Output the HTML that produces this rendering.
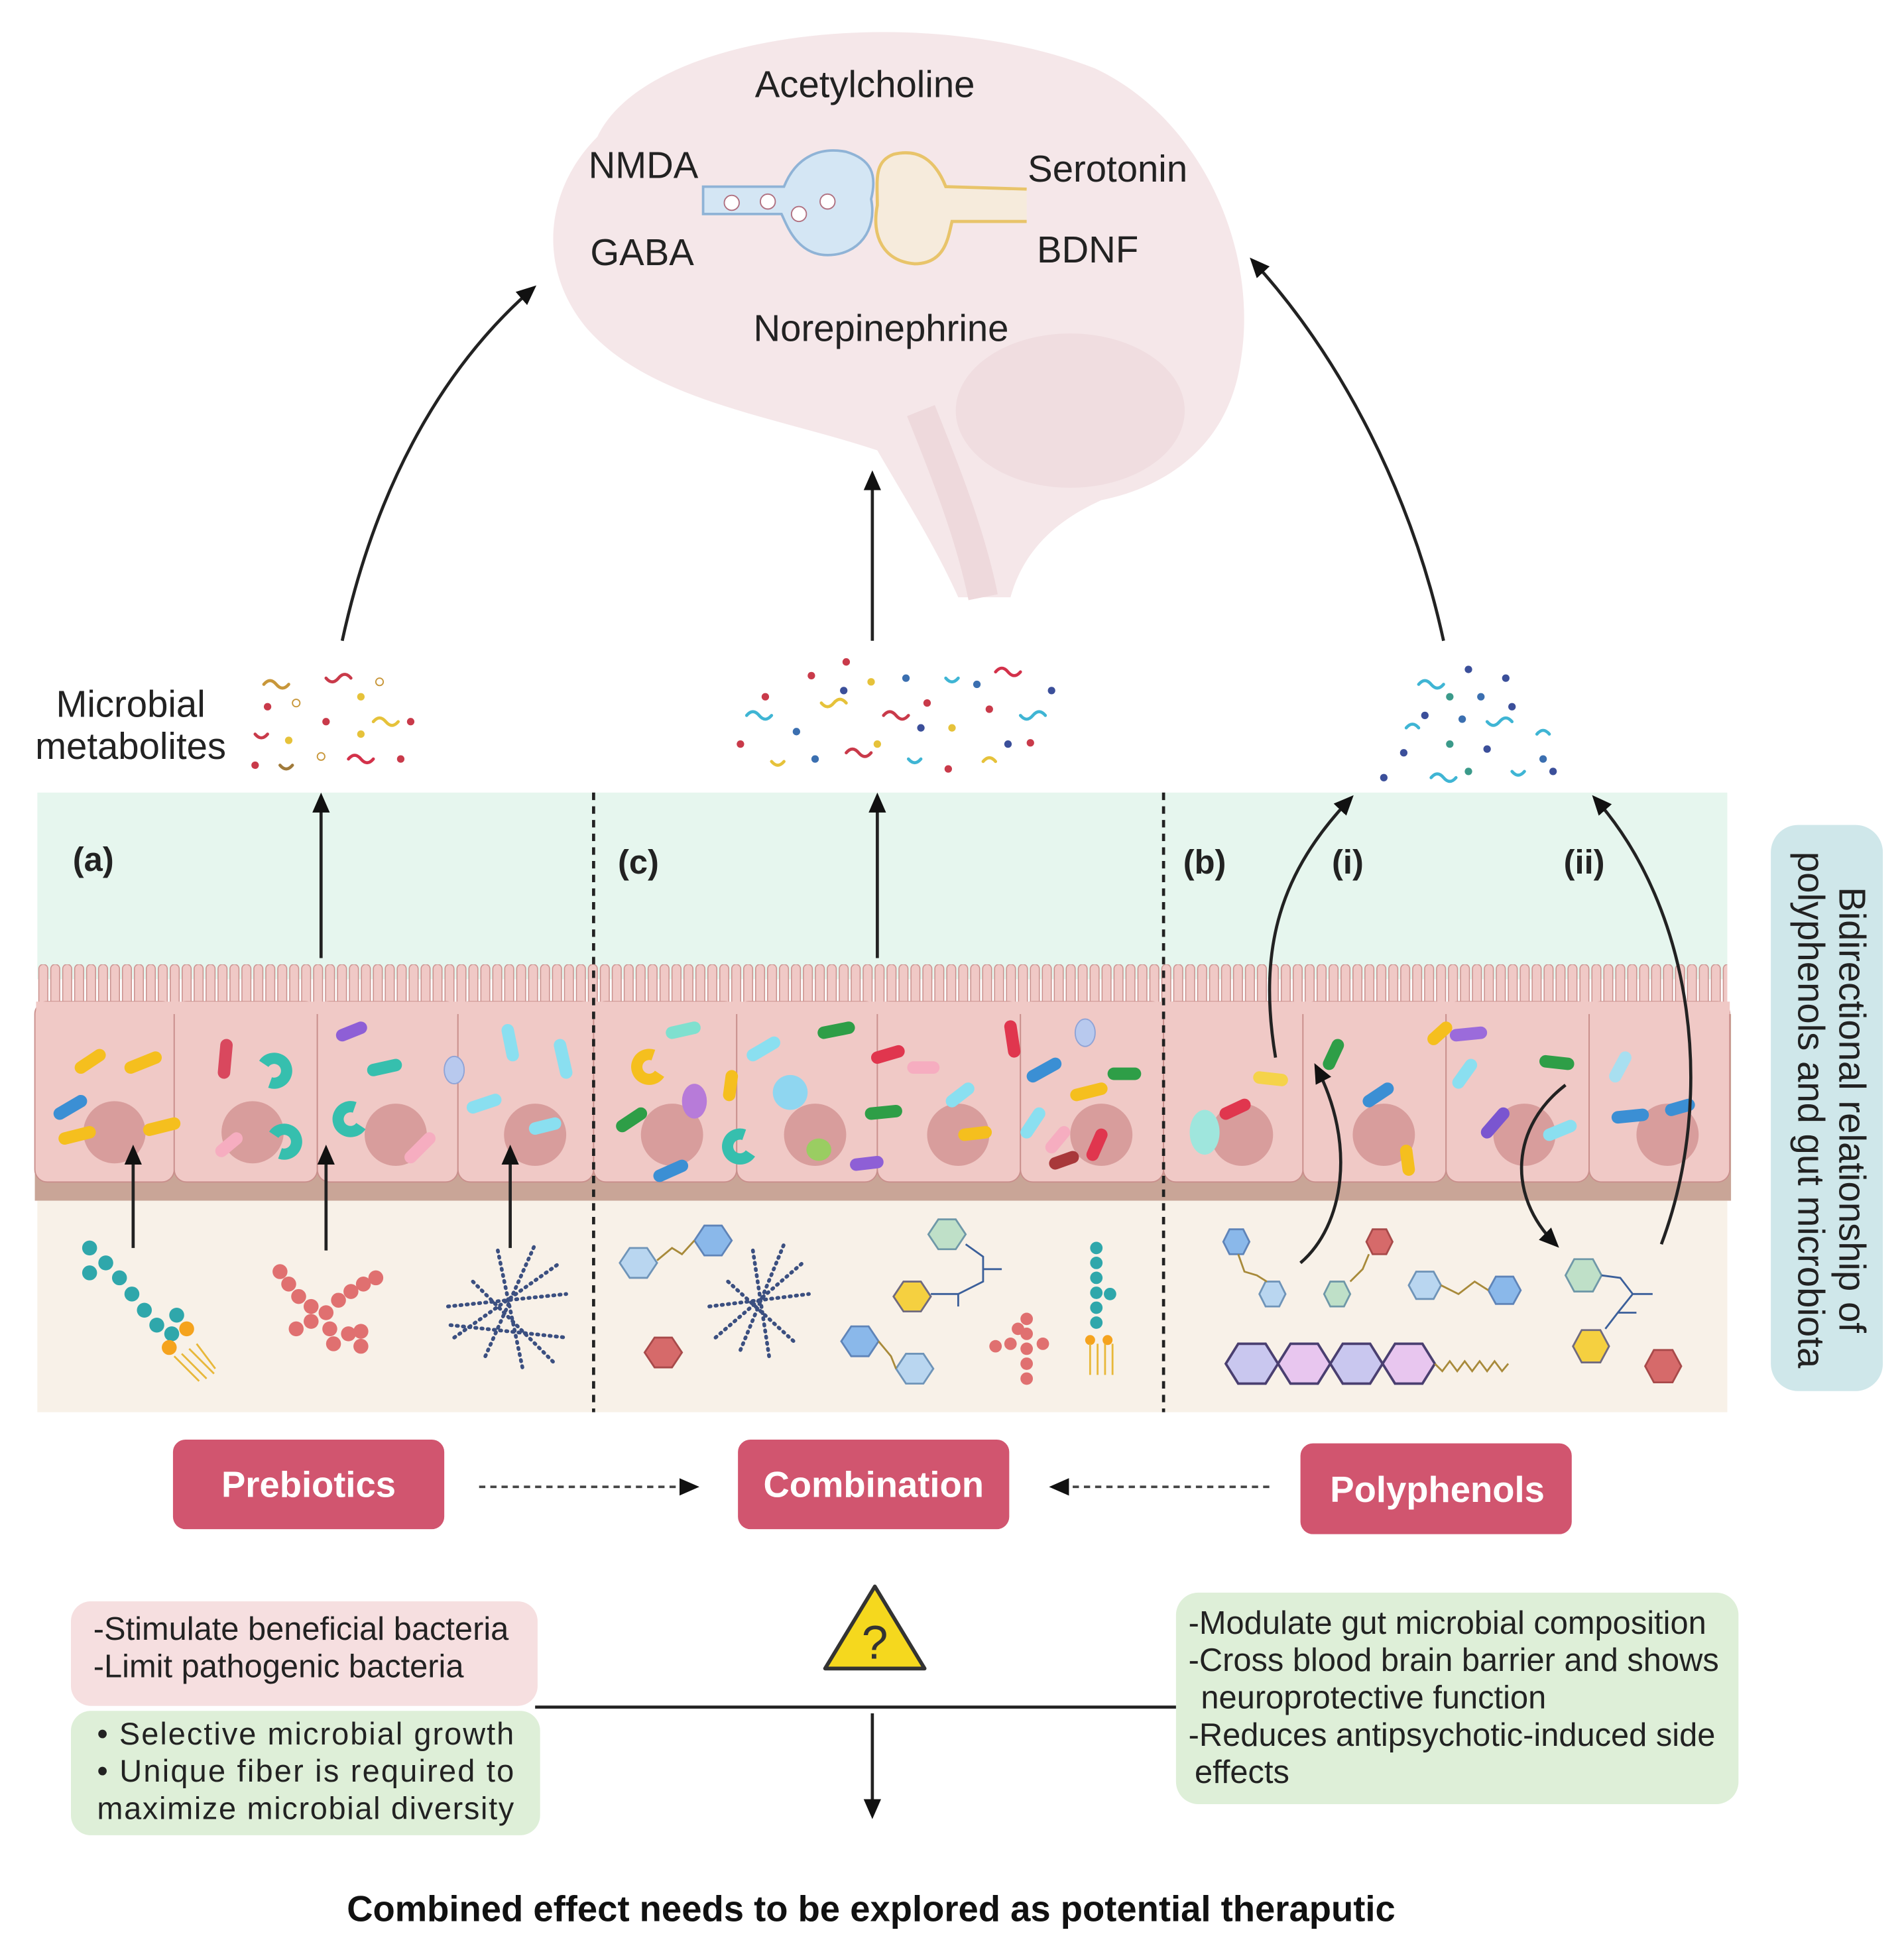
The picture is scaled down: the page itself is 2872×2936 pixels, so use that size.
<!DOCTYPE html>
<html><head><meta charset="utf-8">
<style>
html,body{margin:0;padding:0;background:#fff;}
svg{display:block;}
text{font-family:"Liberation Sans",Arial,sans-serif;}
</style></head>
<body>
<svg width="2872" height="2936" viewBox="0 0 1530 1564" preserveAspectRatio="none" xmlns="http://www.w3.org/2000/svg">
<defs>
<marker id="ahb" markerWidth="16" markerHeight="16" refX="12" refY="8" orient="auto" markerUnits="userSpaceOnUse" viewBox="0 0 16 16">
<path d="M0,1 L16,8 L0,15 Z" fill="#111"/></marker>
<pattern id="villi" x="30" y="775" width="9.6" height="60" patternUnits="userSpaceOnUse">
<rect x="1.2" y="0" width="7.2" height="50" rx="3.6" fill="#f0c9c6" stroke="#c98f8c" stroke-width="0.8"/>
</pattern>
</defs>

<!-- Brain -->
<path d="M480,110 C520,25 740,0 880,55 C965,95 1012,200 997,290 C987,360 935,392 885,402 C845,420 822,445 812,480 L770,480 C752,440 730,405 705,362 C625,335 520,322 470,262 C430,212 440,150 480,110 Z" fill="#f5e7e9"/>
<ellipse cx="860" cy="330" rx="92" ry="62" fill="#f0dde0"/>
<path d="M740,330 C760,380 780,430 790,480" stroke="#eed9dc" stroke-width="24" fill="none"/>
<!-- synapse -->
<path d="M565,150 L630,150 C640,125 660,118 680,122 C700,128 705,140 700,160 C705,185 690,205 665,205 C640,205 632,180 628,172 L565,172 Z" fill="#d4e6f4" stroke="#8fb3d6" stroke-width="2"/>
<circle cx="588" cy="163" r="6" fill="#fff" stroke="#b07080"/>
<circle cx="617" cy="162" r="6" fill="#fff" stroke="#b07080"/>
<circle cx="642" cy="172" r="6" fill="#fff" stroke="#b07080"/>
<circle cx="665" cy="162" r="6" fill="#fff" stroke="#b07080"/>
<path d="M825,152 L760,150 C750,125 735,120 718,124 C702,130 705,145 705,165 C700,190 710,210 735,212 C760,212 762,190 765,178 L825,178" fill="#f6ebdc" stroke="#e8c46a" stroke-width="2.5"/>
<text x="695" y="78" font-size="30" text-anchor="middle" fill="#222">Acetylcholine</text>
<text x="517" y="143" font-size="30" text-anchor="middle" fill="#222">NMDA</text>
<text x="516" y="213" font-size="30" text-anchor="middle" fill="#222">GABA</text>
<text x="890" y="146" font-size="30" text-anchor="middle" fill="#222">Serotonin</text>
<text x="874" y="211" font-size="30" text-anchor="middle" fill="#222">BDNF</text>
<text x="708" y="274" font-size="30" text-anchor="middle" fill="#222">Norepinephrine</text>

<!-- arrows to brain -->
<path d="M275,515 C300,400 350,300 428,232" stroke="#222" stroke-width="2.5" fill="none" marker-end="url(#ahb)"/>
<path d="M701,515 L701,382" stroke="#222" stroke-width="2.5" fill="none" marker-end="url(#ahb)"/>
<path d="M1160,515 C1135,400 1080,290 1007,210" stroke="#222" stroke-width="2.5" fill="none" marker-end="url(#ahb)"/>

<text x="105" y="576" font-size="30" text-anchor="middle" fill="#222">Microbial</text>
<text x="105" y="610" font-size="30" text-anchor="middle" fill="#222">metabolites</text>

<!-- metabolites -->
<g stroke-width="2.5" fill="none" stroke-linecap="round">
<path d="M212,550 q5,-6 10,0 q5,6 10,0" stroke="#c8973a"/><path d="M262,545 q5,6 10,0 q5,-6 10,0" stroke="#c93a4a"/>
<path d="M300,580 q5,-6 10,0 q5,6 10,0" stroke="#e6c23a"/><path d="M205,590 q5,6 10,0" stroke="#c93a4a"/>
<path d="M280,610 q5,-6 10,0 q5,6 10,0" stroke="#d3314a"/><path d="M225,615 q5,6 10,0" stroke="#a07a3a"/>
<path d="M600,575 q5,-6 10,0 q5,6 10,0" stroke="#3fb5d4"/><path d="M660,565 q5,6 10,0 q5,-6 10,0" stroke="#e6c23a"/>
<path d="M710,575 q5,-6 10,0 q5,6 10,0" stroke="#c93a4a"/><path d="M760,545 q5,6 10,0" stroke="#3fb5d4"/>
<path d="M800,540 q5,-6 10,0 q5,6 10,0" stroke="#d3314a"/><path d="M820,575 q5,6 10,0 q5,-6 10,0" stroke="#3fb5d4"/>
<path d="M680,605 q5,-6 10,0 q5,6 10,0" stroke="#c93a4a"/><path d="M730,610 q5,6 10,0" stroke="#3fb5d4"/>
<path d="M790,612 q5,-6 10,0" stroke="#e6c23a"/><path d="M620,612 q5,6 10,0" stroke="#e6c23a"/>
<path d="M1140,550 q5,-6 10,0 q5,6 10,0" stroke="#3fb5d4"/><path d="M1195,580 q5,6 10,0 q5,-6 10,0" stroke="#3fb5d4"/>
<path d="M1130,585 q5,-6 10,0" stroke="#3fb5d4"/><path d="M1215,620 q5,6 10,0" stroke="#3fb5d4"/>
<path d="M1150,625 q5,-6 10,0 q5,6 10,0" stroke="#3fb5d4"/><path d="M1235,590 q5,-6 10,0" stroke="#3fb5d4"/>
</g>
<g>
<circle cx="215" cy="568" r="3" fill="#c93a4a"/><circle cx="238" cy="565" r="3" fill="none" stroke="#c8973a"/><circle cx="262" cy="580" r="3" fill="#c93a4a"/>
<circle cx="290" cy="560" r="3" fill="#e6c23a"/><circle cx="305" cy="548" r="3" fill="none" stroke="#c8973a"/><circle cx="330" cy="580" r="3" fill="#c93a4a"/>
<circle cx="232" cy="595" r="3" fill="#e6c23a"/><circle cx="258" cy="608" r="3" fill="none" stroke="#c8973a"/><circle cx="290" cy="590" r="3" fill="#e6c23a"/>
<circle cx="322" cy="610" r="3" fill="#c93a4a"/><circle cx="205" cy="615" r="3" fill="#c93a4a"/>
<circle cx="595" cy="598" r="3" fill="#c93a4a"/><circle cx="615" cy="560" r="3" fill="#c93a4a"/><circle cx="640" cy="588" r="3" fill="#3b6fb0"/>
<circle cx="652" cy="543" r="3" fill="#c93a4a"/><circle cx="678" cy="555" r="3" fill="#3b4f9a"/><circle cx="680" cy="532" r="3" fill="#c93a4a"/>
<circle cx="700" cy="548" r="3" fill="#e6c23a"/><circle cx="728" cy="545" r="3" fill="#3b6fb0"/><circle cx="745" cy="565" r="3" fill="#c93a4a"/>
<circle cx="740" cy="585" r="3" fill="#3b4f9a"/><circle cx="765" cy="585" r="3" fill="#e6c23a"/><circle cx="785" cy="550" r="3" fill="#3b6fb0"/>
<circle cx="795" cy="570" r="3" fill="#c93a4a"/><circle cx="845" cy="555" r="3" fill="#3b4f9a"/><circle cx="828" cy="597" r="3" fill="#c93a4a"/>
<circle cx="655" cy="610" r="3" fill="#3b6fb0"/><circle cx="705" cy="598" r="3" fill="#e6c23a"/><circle cx="762" cy="618" r="3" fill="#c93a4a"/><circle cx="810" cy="598" r="3" fill="#3b4f9a"/>
<circle cx="1180" cy="538" r="3" fill="#3b4f9a"/><circle cx="1210" cy="545" r="3" fill="#3b4f9a"/><circle cx="1165" cy="560" r="3" fill="#3b9a8a"/>
<circle cx="1190" cy="560" r="3" fill="#3b6fb0"/><circle cx="1145" cy="575" r="3" fill="#3b4f9a"/><circle cx="1175" cy="578" r="3" fill="#3b6fb0"/>
<circle cx="1215" cy="568" r="3" fill="#3b4f9a"/><circle cx="1165" cy="598" r="3" fill="#3b9a8a"/><circle cx="1195" cy="602" r="3" fill="#3b4f9a"/>
<circle cx="1128" cy="605" r="3" fill="#3b4f9a"/><circle cx="1240" cy="610" r="3" fill="#3b6fb0"/><circle cx="1112" cy="625" r="3" fill="#3b4f9a"/>
<circle cx="1180" cy="620" r="3" fill="#3b9a8a"/><circle cx="1248" cy="620" r="3" fill="#3b4f9a"/>
</g>

<!-- Gut layers -->
<rect x="30" y="637" width="1358" height="150" fill="#e6f6ee"/>
<rect x="30" y="775" width="1358" height="40" fill="url(#villi)"/>
<rect x="28" y="815" width="1363" height="150" fill="#c9a597"/>
<g fill="#f0c9c6" stroke="#c98f8c" stroke-width="1">
<rect x="28" y="805" width="112" height="145" rx="10"/><rect x="140" y="805" width="115" height="145" rx="10"/>
<rect x="255" y="805" width="113" height="145" rx="10"/><rect x="368" y="805" width="109" height="145" rx="10"/>
<rect x="477" y="805" width="115" height="145" rx="10"/><rect x="592" y="805" width="113" height="145" rx="10"/>
<rect x="705" y="805" width="115" height="145" rx="10"/><rect x="820" y="805" width="115" height="145" rx="10"/>
<rect x="935" y="805" width="112" height="145" rx="10"/><rect x="1047" y="805" width="115" height="145" rx="10"/>
<rect x="1162" y="805" width="115" height="145" rx="10"/><rect x="1277" y="805" width="113" height="145" rx="10"/>
</g>
<rect x="29" y="805" width="1361" height="10" fill="#f0c9c6"/>
<g fill="#d89d9c">
<circle cx="92" cy="910" r="25"/><circle cx="203" cy="910" r="25"/><circle cx="318" cy="912" r="25"/><circle cx="430" cy="912" r="25"/>
<circle cx="540" cy="912" r="25"/><circle cx="655" cy="912" r="25"/><circle cx="770" cy="912" r="25"/><circle cx="885" cy="912" r="25"/>
<circle cx="998" cy="912" r="25"/><circle cx="1112" cy="912" r="25"/><circle cx="1225" cy="912" r="25"/><circle cx="1340" cy="912" r="25"/>
</g>
<rect x="30" y="965" width="1358" height="170" fill="#f8f1e8"/>

<!-- bacteria -->
<g stroke-linecap="round" stroke-width="10" fill="none">
<path d="M65,858 L80,848" stroke="#f5bf1e"/><path d="M105,858 L125,850" stroke="#f5bf1e"/><path d="M48,895 L65,885" stroke="#3b8fd4"/>
<path d="M52,915 L72,910" stroke="#f5bf1e"/><path d="M120,908 L140,903" stroke="#f5bf1e"/>
<path d="M182,840 L180,862" stroke="#d9485e"/><path d="M178,925 L190,915" stroke="#f6adc0"/><path d="M275,832 L290,826" stroke="#8e5fd6"/>
<path d="M300,860 L318,856" stroke="#36bfae"/><path d="M330,930 L345,915" stroke="#f6adc0"/><path d="M408,828 L412,848" stroke="#8adff0"/>
<path d="M450,840 L455,862" stroke="#8adff0"/><path d="M380,890 L398,884" stroke="#8adff0"/><path d="M430,907 L446,903" stroke="#8adff0"/>
<path d="M540,830 L558,826" stroke="#7fe0cf"/><path d="M500,905 L515,895" stroke="#2e9e47"/><path d="M530,945 L548,937" stroke="#3b8fd4"/>
<path d="M588,865 L586,880" stroke="#f5bf1e"/><path d="M605,848 L622,838" stroke="#8adff0"/><path d="M662,830 L682,826" stroke="#2e9e47"/>
<path d="M705,850 L722,845" stroke="#e0364e"/><path d="M734,858 L750,858" stroke="#f6adc0"/><path d="M700,895 L720,893" stroke="#2e9e47"/>
<path d="M688,936 L705,934" stroke="#8e5fd6"/><path d="M765,885 L778,875" stroke="#8adff0"/><path d="M775,912 L792,910" stroke="#f5bf1e"/>
<path d="M812,825 L815,845" stroke="#e0364e"/><path d="M830,865 L848,855" stroke="#3b8fd4"/><path d="M895,863 L912,863" stroke="#2e9e47"/>
<path d="M865,880 L885,875" stroke="#f5bf1e"/><path d="M825,910 L835,895" stroke="#8adff0"/><path d="M845,922 L855,910" stroke="#f6adc0"/>
<path d="M848,935 L862,930" stroke="#a8383a"/><path d="M878,928 L885,912" stroke="#e0364e"/>
<path d="M1012,866 L1030,868" stroke="#f5d34a"/><path d="M985,895 L1000,888" stroke="#e0364e"/><path d="M1068,855 L1075,840" stroke="#2e9e47"/>
<path d="M1100,885 L1115,875" stroke="#3b8fd4"/><path d="M1130,925 L1132,940" stroke="#f5bf1e"/><path d="M1152,835 L1162,826" stroke="#f5bf1e"/>
<path d="M1170,832 L1190,830" stroke="#9b6bdb"/><path d="M1172,870 L1182,856" stroke="#8adff0"/><path d="M1195,910 L1208,895" stroke="#7a55d0"/>
<path d="M1242,853 L1260,855" stroke="#2e9e47"/><path d="M1298,865 L1306,850" stroke="#a8dff0"/><path d="M1245,912 L1262,905" stroke="#8adff0"/>
<path d="M1300,898 L1320,896" stroke="#3b8fd4"/><path d="M1343,892 L1357,888" stroke="#3b8fd4"/>
</g>
<g fill="none" stroke-width="9">
<path d="M212,855 a10,10 0 1 1 5,15" stroke="#36bfae"/><path d="M220,912 a10,10 0 1 1 5,15" stroke="#36bfae"/>
<path d="M285,890 a10,10 0 1 0 5,15" stroke="#36bfae"/><path d="M525,848 a10,10 0 1 0 5,15" stroke="#f5bf1e"/>
<path d="M598,912 a10,10 0 1 0 5,15" stroke="#36bfae"/>
</g>
<ellipse cx="365" cy="860" rx="8" ry="11" fill="#b8c9ee" stroke="#8fa3d6"/>
<ellipse cx="872" cy="830" rx="8" ry="11" fill="#b8c9ee" stroke="#8fa3d6"/>
<ellipse cx="558" cy="885" rx="10" ry="14" fill="#b77bd9"/>
<circle cx="635" cy="878" r="14" fill="#8fd6f0"/>
<ellipse cx="658" cy="924" rx="10" ry="9" fill="#9acd62"/>
<ellipse cx="968" cy="910" rx="12" ry="18" fill="#9fe6dd"/>

<!-- dashed lines -->
<line x1="477" y1="637" x2="477" y2="1135" stroke="#222" stroke-width="2.5" stroke-dasharray="6,5"/>
<line x1="935" y1="637" x2="935" y2="1135" stroke="#222" stroke-width="2.5" stroke-dasharray="6,5"/>

<text x="75" y="700" font-size="27" font-weight="bold" text-anchor="middle" fill="#222">(a)</text>
<text x="513" y="702" font-size="27" font-weight="bold" text-anchor="middle" fill="#222">(c)</text>
<text x="968" y="702" font-size="27" font-weight="bold" text-anchor="middle" fill="#222">(b)</text>
<text x="1083" y="702" font-size="27" font-weight="bold" text-anchor="middle" fill="#222">(i)</text>
<text x="1273" y="702" font-size="27" font-weight="bold" text-anchor="middle" fill="#222">(ii)</text>

<!-- gut arrows -->
<g stroke="#222" stroke-width="2.5" fill="none">
<path d="M258,770 L258,641" marker-end="url(#ahb)"/><path d="M705,770 L705,641" marker-end="url(#ahb)"/>
<path d="M107,1003 L107,924" marker-end="url(#ahb)"/><path d="M262,1005 L262,924" marker-end="url(#ahb)"/><path d="M410,1003 L410,924" marker-end="url(#ahb)"/>
<path d="M1025,850 C1010,760 1030,700 1085,642" marker-end="url(#ahb)"/>
<path d="M1045,1015 C1080,985 1090,920 1058,858" marker-end="url(#ahb)"/>
<path d="M1335,1000 C1380,880 1360,730 1282,642" marker-end="url(#ahb)"/>
<path d="M1258,872 C1215,905 1210,960 1250,1000" marker-end="url(#ahb)"/>
</g>

<!-- molecules (a) -->
<g fill="#2fa7ab">
<circle cx="72" cy="1003" r="6"/><circle cx="72" cy="1023" r="6"/><circle cx="85" cy="1015" r="6"/><circle cx="96" cy="1027" r="6"/>
<circle cx="106" cy="1040" r="6"/><circle cx="116" cy="1053" r="6"/><circle cx="126" cy="1065" r="6"/><circle cx="138" cy="1072" r="6"/><circle cx="142" cy="1057" r="6"/>
</g>
<circle cx="136" cy="1083" r="6" fill="#f5a31e"/><circle cx="150" cy="1068" r="6" fill="#f5a31e"/>
<path d="M140,1090 l20,20 M146,1088 l20,20 M152,1084 l20,20 M158,1080 l15,20" stroke="#e8b83a" stroke-width="1.5"/>
<g fill="#e07070">
<circle cx="225" cy="1022" r="6"/><circle cx="232" cy="1032" r="6"/><circle cx="240" cy="1042" r="6"/><circle cx="250" cy="1050" r="6"/><circle cx="262" cy="1055" r="6"/>
<circle cx="272" cy="1045" r="6"/><circle cx="282" cy="1038" r="6"/><circle cx="292" cy="1032" r="6"/><circle cx="302" cy="1027" r="6"/>
<circle cx="265" cy="1068" r="6"/><circle cx="268" cy="1080" r="6"/><circle cx="280" cy="1072" r="6"/><circle cx="290" cy="1070" r="6"/><circle cx="290" cy="1082" r="6"/>
<circle cx="250" cy="1062" r="6"/><circle cx="238" cy="1068" r="6"/>
</g>
<g stroke="#3b4f80" stroke-width="3" stroke-dasharray="1,4" stroke-linecap="round" fill="none">
<path d="M360,1050 L455,1040"/><path d="M365,1075 L450,1015"/><path d="M390,1090 L430,1000"/><path d="M380,1030 L445,1095"/><path d="M400,1005 L420,1100"/><path d="M362,1065 L455,1075"/>
<path d="M570,1050 L650,1040"/><path d="M575,1075 L645,1015"/><path d="M595,1085 L630,1000"/><path d="M585,1030 L640,1080"/><path d="M605,1005 L618,1090"/>
</g>

<!-- hexagon molecules -->
<g stroke-width="1.5">
<polygon points="498,1015 506,1003 520,1003 528,1015 520,1027 506,1027" fill="#b9d6f0" stroke="#6f94b8"/>
<polygon points="558,997 566,985 580,985 588,997 580,1009 566,1009" fill="#8ab8ea" stroke="#5f84b8"/>
<path d="M528,1013 L540,1003 L548,1008 L558,997" stroke="#a88a3a" fill="none"/>
<polygon points="518,1087 526,1075 540,1075 548,1087 540,1099 526,1099" fill="#d66a6a" stroke="#a84a4a"/>
<polygon points="746,992 754,980 768,980 776,992 768,1004 754,1004" fill="#bfe0c8" stroke="#6f98a8"/>
<polygon points="718,1042 726,1030 740,1030 748,1042 740,1054 726,1054" fill="#f5d040" stroke="#6f6a80"/>
<path d="M776,1000 L790,1010 L790,1030 L770,1040 L748,1040 M790,1020 L805,1020 M770,1040 L770,1050" stroke="#3b5f9a" fill="none"/>
<polygon points="676,1078 684,1066 698,1066 706,1078 698,1090 684,1090" fill="#8ab8ea" stroke="#5f84b8"/>
<polygon points="720,1100 728,1088 742,1088 750,1100 742,1112 728,1112" fill="#b9d6f0" stroke="#6f94b8"/>
<path d="M706,1078 L716,1090 L720,1100" stroke="#a88a3a" fill="none"/>
<g fill="#e07070"><circle cx="825" cy="1060" r="5"/><circle cx="825" cy="1072" r="5"/><circle cx="825" cy="1084" r="5"/><circle cx="825" cy="1096" r="5"/><circle cx="825" cy="1108" r="5"/><circle cx="812" cy="1080" r="5"/><circle cx="800" cy="1082" r="5"/><circle cx="838" cy="1080" r="5"/><circle cx="818" cy="1068" r="5"/></g>
<g fill="#2fa7ab"><circle cx="881" cy="1003" r="5"/><circle cx="881" cy="1015" r="5"/><circle cx="881" cy="1027" r="5"/><circle cx="881" cy="1039" r="5"/><circle cx="881" cy="1051" r="5"/><circle cx="881" cy="1063" r="5"/><circle cx="892" cy="1040" r="5"/></g>
<circle cx="876" cy="1077" r="4" fill="#f5a31e"/><circle cx="890" cy="1077" r="4" fill="#f5a31e"/>
<path d="M876,1080 l0,25 M882,1080 l0,25 M888,1080 l0,25 M894,1080 l0,25" stroke="#e8b83a" stroke-width="1.5"/>

<polygon points="983,998 988,988 999,988 1004,998 999,1008 988,1008" fill="#8ab8ea" stroke="#5f84b8"/>
<polygon points="1012,1040 1017,1030 1028,1030 1033,1040 1028,1050 1017,1050" fill="#b9d6f0" stroke="#6f94b8"/>
<path d="M995,1008 L1000,1022 L1010,1025 L1018,1030" stroke="#a88a3a" fill="none"/>
<polygon points="1098,998 1103,988 1114,988 1119,998 1114,1008 1103,1008" fill="#d66a6a" stroke="#a84a4a"/>
<polygon points="1064,1040 1069,1030 1080,1030 1085,1040 1080,1050 1069,1050" fill="#bfe0c8" stroke="#6f98a8"/>
<path d="M1100,1008 L1095,1020 L1085,1030" stroke="#a88a3a" fill="none"/>
<polygon points="1132,1033 1138,1022 1152,1022 1158,1033 1152,1044 1138,1044" fill="#b9d6f0" stroke="#6f94b8"/>
<polygon points="1196,1037 1202,1026 1216,1026 1222,1037 1216,1048 1202,1048" fill="#8ab8ea" stroke="#5f84b8"/>
<path d="M1158,1033 L1172,1040 L1185,1030 L1196,1037" stroke="#a88a3a" fill="none"/>
<g stroke="#4a3f70" stroke-width="2">
<polygon points="985,1096 995,1080 1017,1080 1027,1096 1017,1112 995,1112" fill="#c9c7ef"/>
<polygon points="1027,1096 1037,1080 1059,1080 1069,1096 1059,1112 1037,1112" fill="#e8c6ef"/>
<polygon points="1069,1096 1079,1080 1101,1080 1111,1096 1101,1112 1079,1112" fill="#c9c7ef"/>
<polygon points="1111,1096 1121,1080 1143,1080 1153,1096 1143,1112 1121,1112" fill="#e8c6ef"/>
</g>
<path d="M1153,1096 l6,6 l6,-8 l6,8 l6,-8 l6,8 l6,-8 l6,8 l6,-8 l6,8 l5,-6" stroke="#a88a3a" fill="none"/>
<polygon points="1258,1025 1265,1012 1280,1012 1287,1025 1280,1038 1265,1038" fill="#bfe0c8" stroke="#6f98a8"/>
<polygon points="1264,1082 1271,1069 1286,1069 1293,1082 1286,1095 1271,1095" fill="#f5d040" stroke="#6f6a80"/>
<path d="M1287,1025 L1302,1027 L1312,1040 L1300,1055 L1290,1068 M1312,1040 L1328,1040 M1300,1055 L1315,1055" stroke="#3b5f9a" fill="none"/>
<polygon points="1322,1098 1329,1085 1344,1085 1351,1098 1344,1111 1329,1111" fill="#d66a6a" stroke="#a84a4a"/>
</g>

<!-- side box -->
<rect x="1423" y="663" width="90" height="455" rx="22" fill="#cfe7ea"/>
<g transform="translate(1468,892) rotate(90)">
<text x="0" y="-10" font-size="30" text-anchor="middle" fill="#222">Bidirectional relationship of</text>
<text x="0" y="23" font-size="30" text-anchor="middle" fill="#222">polyphenols and gut microbiota</text>
</g>

<!-- buttons -->
<rect x="139" y="1157" width="218" height="72" rx="10" fill="#d1556f"/>
<text x="248" y="1203" font-size="29" font-weight="bold" text-anchor="middle" fill="#fff">Prebiotics</text>
<rect x="593" y="1157" width="218" height="72" rx="10" fill="#d1556f"/>
<text x="702" y="1203" font-size="29" font-weight="bold" text-anchor="middle" fill="#fff">Combination</text>
<rect x="1045" y="1160" width="218" height="73" rx="10" fill="#d1556f"/>
<text x="1155" y="1207" font-size="29" font-weight="bold" text-anchor="middle" fill="#fff">Polyphenols</text>
<line x1="385" y1="1195" x2="558" y2="1195" stroke="#444" stroke-width="2" stroke-dasharray="5,4" marker-end="url(#ahb)"/>
<line x1="1020" y1="1195" x2="847" y2="1195" stroke="#444" stroke-width="2" stroke-dasharray="5,4" marker-end="url(#ahb)"/>

<!-- bottom boxes -->
<rect x="57" y="1287" width="375" height="84" rx="16" fill="#f6dfe0"/>
<text x="75" y="1318" font-size="26" fill="#222">-Stimulate beneficial bacteria</text>
<text x="75" y="1348" font-size="26" fill="#222">-Limit pathogenic bacteria</text>
<rect x="57" y="1375" width="377" height="100" rx="16" fill="#deefd8"/>
<text x="78" y="1402" font-size="25" fill="#222" textLength="335">• Selective microbial growth</text>
<text x="78" y="1432" font-size="25" fill="#222" textLength="335">• Unique fiber is required to</text>
<text x="78" y="1462" font-size="25" fill="#222" textLength="335">maximize microbial diversity</text>
<rect x="945" y="1280" width="452" height="170" rx="18" fill="#deefd8"/>
<text x="955" y="1313" font-size="26" fill="#222">-Modulate gut microbial composition</text>
<text x="955" y="1343" font-size="26" fill="#222">-Cross blood brain barrier and shows</text>
<text x="965" y="1373" font-size="26" fill="#222">neuroprotective function</text>
<text x="955" y="1403" font-size="26" fill="#222">-Reduces antipsychotic-induced side</text>
<text x="960" y="1433" font-size="26" fill="#222">effects</text>

<line x1="430" y1="1372" x2="945" y2="1372" stroke="#222" stroke-width="2.5"/>
<line x1="701" y1="1377" x2="701" y2="1458" stroke="#222" stroke-width="2.5" marker-end="url(#ahb)"/>
<polygon points="703,1275 663,1341 743,1341" fill="#f5d81e" stroke="#333" stroke-width="3" stroke-linejoin="round"/>
<text x="703" y="1333" font-size="38" text-anchor="middle" fill="#333">?</text>

<text x="700" y="1544" font-size="29" font-weight="bold" text-anchor="middle" fill="#111">Combined effect needs to be explored as potential theraputic</text>
</svg>
</body></html>
